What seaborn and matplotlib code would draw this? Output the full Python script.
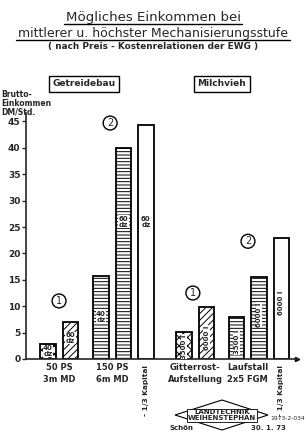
import matplotlib
matplotlib.use("Agg")
import matplotlib.pyplot as plt
import seaborn as sns
import pandas as pd
from matplotlib.lines import Line2D
from matplotlib.patches import Polygon

# data (Brutto-Einkommen DM/Std.)
bar_values = [2.8, 7.0, 15.7, 40.0, 44.3, 5.1, 9.9, 8.0, 15.6, 23.0]
bar_notes = ["40\ndz", "60\ndz", "40\ndz", "60\ndz", "60\ndz",
             "3500 l", "6000 l", "3500 l", "6000 l", "6000 l"]
note_heights = [1.5, 4.0, 8.0, 26.0, 26.0, 2.3, 4.0, 3.2, 8.4, 10.6]
bar_hatches = ["xxxx", "/////", "-----", "-----", "",
               "xxxx", "/////", "-----", "-----", ""]
group_labels = ["50 PS\n3m MD", "150 PS\n6m MD", "Gitterrost-\nAufstellung", "Laufstall\n2x5 FGM"]
y_ticks = [0, 5, 10, 15, 20, 25, 30, 35, 40, 45]

# layout: bar slots along the x axis
positions = [0, 1, 2.35, 3.35, 4.35, 6.05, 7.05, 8.38, 9.38, 10.38]

df = pd.DataFrame({"pos": positions, "value": bar_values})

sns.set_style("ticks")
plt.rcParams["font.family"] = ["DejaVu Sans"]
plt.rcParams["hatch.linewidth"] = 0.7

fig = plt.figure(figsize=(3.06, 4.45), dpi=100)
fig.patch.set_facecolor("white")
ax = fig.add_axes([26 / 306, (445 - 359) / 445, (297 - 26) / 306, (359 - 113) / 445])

sns.barplot(data=df, x="pos", y="value", native_scale=True, width=0.68,
            color="white", saturation=1, edgecolor="black", linewidth=1.3,
            errorbar=None, ax=ax)

for patch, h in zip(ax.patches, bar_hatches):
    patch.set_hatch(h)

ax.set_xlim(-0.98, 11.07)
ax.set_ylim(0, 46.6)
ax.set_xlabel("")
ax.set_ylabel("")
ax.set_yticks(y_ticks)
ax.tick_params(axis="y", direction="out", length=3, width=1, labelsize=6.5, pad=1)
for t in ax.get_yticklabels():
    t.set_fontweight("bold")
group_centers = [(positions[0] + positions[1]) / 2, (positions[2] + positions[3]) / 2,
                 (positions[5] + positions[6]) / 2, (positions[7] + positions[8]) / 2]
ax.set_xticks(group_centers)
ax.set_xticklabels(group_labels, fontsize=6, fontweight="bold", linespacing=1.35)
ax.tick_params(axis="x", length=0, pad=3)
sns.despine(ax=ax)
ax.spines["left"].set_linewidth(1.2)
ax.spines["bottom"].set_linewidth(1.2)
ax.plot(1, 0, ">k", ms=3, transform=ax.get_yaxis_transform(), clip_on=False)

# notes inside the bars
for i, (x, note, yh) in enumerate(zip(positions, bar_notes, note_heights)):
    rot = 0 if i < 5 else 90
    ax.text(x, yh, note, ha="center", va="center", fontsize=5, fontweight="bold",
            rotation=rot, linespacing=1.0,
            bbox=dict(boxstyle="square,pad=0.05", fc="white", ec="none"))

# "- 1/3 Kapital" labels under the open bars
for x in (positions[4], positions[9]):
    ax.text(x, -1.2, "- 1/3 Kapital", rotation=90, ha="center", va="top",
            fontsize=5.3, fontweight="bold")

# circled level markers
for x, y, s in [(0.49, 11.0, "1"), (2.76, 44.7, "2"), (6.44, 12.5, "1"), (8.89, 22.3, "2")]:
    ax.text(x, y, s, ha="center", va="center", fontsize=7,
            bbox=dict(boxstyle="circle,pad=0.2", fc="white", ec="black", lw=1.0))

# group header boxes
fig.text(84 / 306, 1 - 84 / 445, "Getreidebau", ha="center", va="center", fontsize=6.5,
         fontweight="bold", bbox=dict(boxstyle="square,pad=0.35", fc="white", ec="black", lw=1.0))
fig.text(222 / 306, 1 - 84 / 445, "Milchvieh", ha="center", va="center", fontsize=6.5,
         fontweight="bold", bbox=dict(boxstyle="square,pad=0.35", fc="white", ec="black", lw=1.0))

# y axis caption
fig.text(1 / 306, 1 - 90 / 445, "Brutto-\nEinkommen\nDM/Std.", ha="left", va="top",
         fontsize=5.5, fontweight="bold", linespacing=0.95)

# title
t1 = fig.text(0.5, 1 - 17 / 445, "Mögliches Einkommen bei", ha="center", va="center",
              fontsize=9.6, fontweight="medium")
t2 = fig.text(0.5, 1 - 33 / 445, "mittlerer u. höchster Mechanisierungsstufe", ha="center",
              va="center", fontsize=9.0, fontweight="medium")
fig.text(0.5, 1 - 47 / 445, "( nach Preis - Kostenrelationen der EWG )", ha="center",
         va="center", fontsize=6.4, fontweight="bold")

fig.canvas.draw()
renderer = fig.canvas.get_renderer()
for t in (t1, t2):
    bb = t.get_window_extent(renderer).transformed(fig.transFigure.inverted())
    fig.add_artist(Line2D([bb.x0 - 0.005, bb.x1 + 0.005], [bb.y0 - 0.002, bb.y0 - 0.002],
                          color="black", lw=1.0, transform=fig.transFigure))

# stamp at the bottom
W, H = 306, 445
diamond = [(175 / W, 1 - 415 / H), (222 / W, 1 - 400 / H), (268 / W, 1 - 415 / H), (222 / W, 1 - 430 / H)]
fig.add_artist(Polygon(diamond, closed=True, fill=False, ec="black", lw=0.8,
                       transform=fig.transFigure))
fig.text(222 / W, 1 - 415.5 / H, "LANDTECHNIK\nWEIHENSTEPHAN", ha="center", va="center",
         fontsize=5, fontweight="bold", linespacing=1.0,
         bbox=dict(boxstyle="square,pad=0.1", fc="white", ec="black", lw=0.6))
fig.text(270 / W, 1 - 418 / H, "1973-2-034", ha="left", va="center", fontsize=4.3)
fig.text(170 / W, 1 - 428 / H, "Schön", ha="left", va="center", fontsize=5, fontweight="bold")
fig.text(251 / W, 1 - 428 / H, "30. 1. 73", ha="left", va="center", fontsize=5, fontweight="bold")

fig.savefig("out.png", dpi=100, facecolor="white")
